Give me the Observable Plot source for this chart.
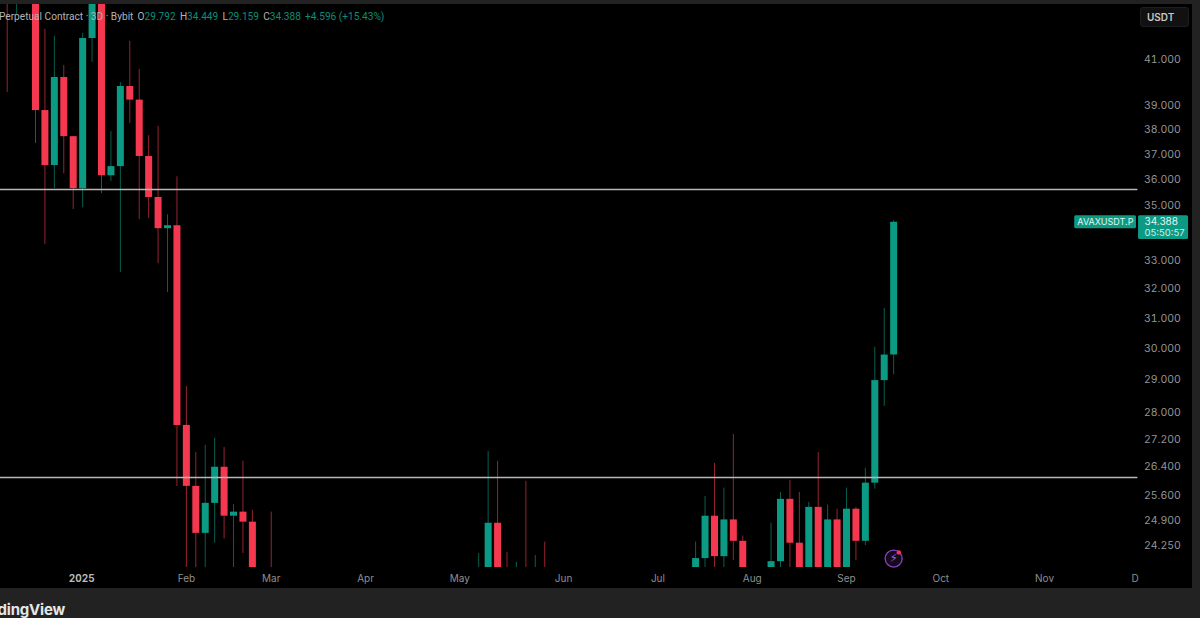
<!DOCTYPE html>
<html>
<head>
<meta charset="utf-8">
<script src="https://cdn.jsdelivr.net/npm/d3@7"></script>
<script src="https://cdn.jsdelivr.net/npm/@observablehq/plot@0.6"></script>
<style>
html,body{margin:0;padding:0;background:#222;width:1200px;height:618px;overflow:hidden;position:relative;font-family:Inter,"Liberation Sans",sans-serif}
#chart{position:absolute;left:0;top:4px}
#legend{position:absolute;left:-1px;top:10px;font-family:Roboto,Inter,sans-serif;font-size:10.15px;line-height:13px;color:#b4b4b4;white-space:nowrap}
#legend b{font-weight:400;color:#0b8f78}
#legend span{margin-left:4.2px}
#unit{position:absolute;left:1140px;top:7px;width:49px;height:20px;box-sizing:border-box;border:1px solid #1e1e1e;border-radius:3px;background:#111;color:#c8c8c8;font-size:10px;font-weight:600;line-height:18px;padding-left:6px}
#brand{position:absolute;right:1135px;top:602px;font-size:15px;line-height:16px;letter-spacing:-0.2px;font-weight:700;color:#e6e6e6;white-space:nowrap}
</style>
</head>
<body>
<div id="chart"></div>
<div id="legend">Perpetual Contract · 3D · Bybit<span>O<b>29.792</b></span><span>H<b>34.449</b></span><span>L<b>29.159</b></span><span>C<b>34.388</b></span><span><b>+4.596 (+15.43%)</b></span></div>
<div id="unit">USDT</div>
<div id="brand">dingView</div>
<script>
// candle slot (one every 3 days), cut at the panel edges
const slots  = [0,1,3,4,5,6,7,8,9,10,11,12,13,14,15,16,17,18,19,20,21,22,23,24,25,26,28,50,51,52,53,54,55,56,57,73,74,75,76,77,78,81,82,83,84,85,86,87,88,89,90,91,92,93,94];
const opens  = [43.51,43.51,43.51,38.80,36.56,40.21,37.72,35.66,41.94,43.51,36.16,36.52,39.82,39.24,36.92,35.32,34.15,34.26,27.61,25.85,24.57,25.38,26.39,25.03,25.14,24.87,23.68,23.68,23.68,24.84,23.68,23.68,23.68,23.68,23.68,23.68,23.91,25.03,23.96,24.93,24.36,23.68,23.83,25.49,24.31,23.68,25.27,23.68,24.93,23.68,25.22,24.36,25.94,28.98,29.792];
const highs  = [43.51,43.51,43.51,42.36,42.04,40.74,37.72,42.17,43.51,43.51,37.93,39.99,41.81,40.56,37.76,38.14,34.67,36.12,28.79,26.81,27.02,27.23,26.96,25.35,26.56,25.19,25.14,24.04,26.84,26.56,24.07,23.81,25.99,23.99,24.34,24.34,25.57,26.50,25.80,27.34,24.50,24.84,25.68,26.02,25.68,25.41,26.81,25.33,25.22,25.80,25.27,26.36,30.04,31.33,34.449];
const lows   = [39.56,43.00,37.44,33.57,35.66,36.24,34.86,34.93,40.87,35.47,35.93,32.57,38.26,34.49,34.53,32.88,31.87,25.85,23.68,23.68,23.68,24.31,24.42,23.68,24.04,23.68,23.68,23.68,23.68,23.68,23.68,23.68,23.68,23.68,23.68,23.68,23.68,23.68,23.68,23.86,23.68,23.68,23.68,23.68,23.68,23.68,23.68,23.68,23.68,23.68,23.86,24.25,25.77,28.18,29.159];
const closes = [43.51,43.51,38.80,36.56,40.21,37.72,35.66,41.94,43.51,36.16,36.52,39.82,39.24,36.92,35.32,34.15,34.26,27.61,25.85,24.57,25.38,26.39,25.03,25.14,24.87,23.68,23.68,23.68,24.84,23.68,23.68,23.68,23.68,23.68,23.68,23.91,25.03,23.96,24.93,24.36,23.68,23.83,25.49,24.31,23.68,25.27,23.68,24.93,23.68,25.22,24.36,25.94,28.98,29.792,34.388];
const directions = ["down","up","down","down","up","down","down","up","up","down","up","up","down","down","down","down","up","down","down","down","up","up","down","up","down","down","down","up","up","down","down","up","down","up","down","up","up","down","up","down","down","up","up","down","down","up","down","up","down","up","down","up","up","up","up"];

const levels = [35.63, 26.1];
const priceTicks = [41,39,38,37,36,35,33,32,31,30,29,28,27.2,26.4,25.6,24.9,24.25];
const monthSlots  = [38,48,28,19,59,69,79,89,99,110,119.6];
const monthLabels = ["Apr","May","Mar","Feb","Jun","Jul","Aug","Sep","Oct","Nov","D"];
const yearSlots = [7.9];

const candles = slots.map((s,i)=>({s,o:opens[i],h:highs[i],l:lows[i],c:closes[i],d:directions[i]}));
const GREEN="#0b9a83", RED="#f4384f";

const chart = Plot.plot({
  width:1192, height:584,
  marginTop:0, marginLeft:0, marginRight:52, marginBottom:21,
  style:{background:"#000",fontFamily:"Inter, 'Liberation Sans', sans-serif",fontSize:"10px"},
  x:{domain:[-0.71,125.69],range:[0,1192],axis:null},
  y:{type:"log",domain:[24.25,41],range:[541,55],axis:null},
  color:{domain:["up","down"],range:[GREEN,RED]},
  marks:[
    Plot.ruleX(candles,{x:"s",y1:"l",y2:"h",stroke:"d",strokeWidth:1,strokeOpacity:0.62}),
    Plot.ruleX(candles,{x:"s",y1:"o",y2:"c",stroke:"d",strokeWidth:7}),
    Plot.ruleY(levels,{x1:-0.71,x2:119.9,stroke:"#b8b8b8",strokeWidth:1.5}),
    Plot.axisX({ticks:monthSlots,tickFormat:d=>monthLabels[monthSlots.indexOf(d)],tickSize:0,tickPadding:7,color:"#8f8f8f",label:null,anchor:"bottom",fontSize:10}),
    Plot.axisX({ticks:yearSlots,tickFormat:()=>"2025",tickSize:0,tickPadding:7,color:"#b8b8b8",fontWeight:700,label:null,anchor:"bottom",fontSize:10}),
    Plot.axisY({ticks:priceTicks,tickFormat:d3.format(".3f"),tickSize:0,tickPadding:3.5,color:"#949494",label:null,anchor:"right",fontSize:10.5}),
    Plot.rect([{x1:113.2,x2:119.75,y1:34.15,y2:34.63}],{x1:"x1",x2:"x2",y1:"y1",y2:"y2",fill:GREEN,rx:1.5}),
    Plot.rect([{x1:119.97,x2:125.27,y1:33.75,y2:34.63}],{x1:"x1",x2:"x2",y1:"y1",y2:"y2",fill:GREEN,rx:1.5}),
    Plot.text(["AVAXUSDT.P"],{x:116.45,y:34.39,text:d=>d,fill:"#e4f5f1",fontSize:9,textAnchor:"middle"}),
    Plot.text(["34.388"],{x:120.6,y:34.41,text:d=>d,fill:"#e4f5f1",fontSize:10,textAnchor:"start"}),
    Plot.text(["05:50:57"],{x:120.6,y:33.98,text:d=>d,fill:"#cfeee7",fontSize:9.5,textAnchor:"start"}),
    Plot.dot([0],{x:()=>94,y:()=>23.91,r:8.5,stroke:"#8d3fc4",strokeWidth:1.3,fill:"#130a1c"}),
    Plot.text(["⚡"],{x:()=>94,y:()=>23.91,text:d=>d,fill:"#a55be0",fontSize:12,fontFamily:"DejaVu Sans"}),
    Plot.dot([0],{x:()=>94.55,y:()=>24.07,r:2.2,fill:"#f4384f"})
  ]
});
document.getElementById("chart").append(chart);
</script>
</body>
</html>
